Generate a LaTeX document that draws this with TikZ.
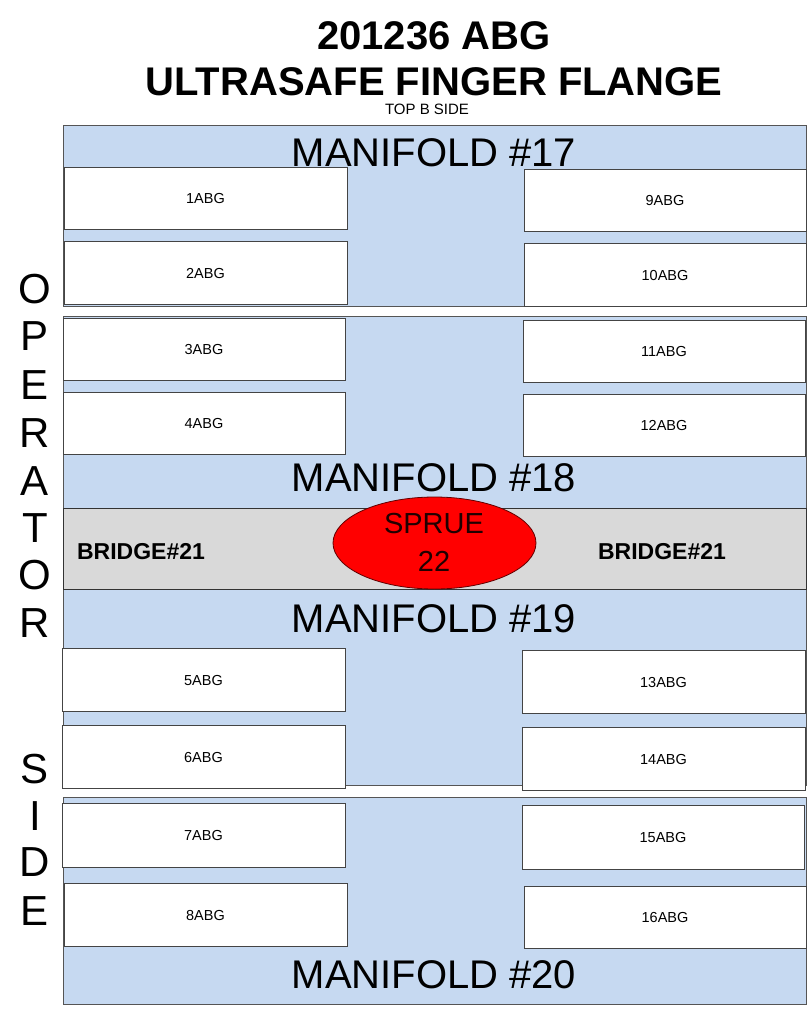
\documentclass[tikz,border=0pt]{standalone}
\usepackage{fontspec}
\setmainfont{Liberation Sans}
\usetikzlibrary{shapes.geometric}
\definecolor{panelblue}{HTML}{C6D9F1}
\definecolor{bridgegray}{HTML}{D9D9D9}
\definecolor{edgegray}{HTML}{555555}
\definecolor{sprueedge}{HTML}{600000}
\definecolor{spruetext}{HTML}{200000}
\tikzset{
  panel/.style={fill=panelblue, draw=edgegray, line width=1pt},
  bridgeband/.style={fill=bridgegray, draw=black!80, line width=0.8pt},
  cell/.style={fill=white, draw=edgegray!80!black, line width=1pt},
  celltext/.style={anchor=base, inner sep=0pt, font=\fontsize{14.5}{17}\selectfont},
  titletext/.style={anchor=base, inner sep=0pt, font=\fontsize{40}{48}\selectfont\bfseries},
  subtext/.style={anchor=base, inner sep=0pt, font=\fontsize{15}{18}\selectfont},
  mantext/.style={anchor=base, inner sep=0pt, font=\fontsize{40}{48}\selectfont},
  bridgetext/.style={anchor=base, inner sep=0pt, font=\fontsize{23}{27}\selectfont\bfseries},
  spruetxt/.style={anchor=base, inner sep=0pt, text=spruetext, font=\fontsize{29}{34}\selectfont},
  sidetext/.style={anchor=base, inner sep=0pt, font=\fontsize{42}{50}\selectfont},
}
\newcommand{\cellbox}[6]{%
  \draw[cell] (#1,#2) rectangle (#3,#4);
  \node[celltext] (#5) at ({(#1+#3)/2},{(#2+#4)/2+5.5}) {#6};
}
\begin{document}
\begin{tikzpicture}[x=1pt,y=-1pt]
\useasboundingbox (0,0) rectangle (808,1017);
% titles
\node[titletext] (t1) at (434,49) {201236 ABG};
\node[titletext] (t2) at (434,95) {ULTRASAFE FINGER FLANGE};
\node[subtext] (t3) at (427,114) {TOP B SIDE};
% panels
\draw[panel] (63,125) rectangle (806,306);
\draw[panel] (63,316) rectangle (806,508);
\draw[panel] (63,589) rectangle (806,785);
\draw[panel] (63,797) rectangle (806,1004);
\draw[bridgeband] (63,508) rectangle (806,589);
% manifold labels
\node[mantext] (m17) at (434,166) {MANIFOLD \#17};
\node[mantext] (m18) at (434,491) {MANIFOLD \#18};
\node[mantext] (m19) at (434,632) {MANIFOLD \#19};
\node[mantext] (m20) at (434,988) {MANIFOLD \#20};
% cells
\cellbox{64}{167}{347}{229}{c1}{1ABG}
\cellbox{64}{241}{347}{304}{c2}{2ABG}
\cellbox{63}{318}{345}{380}{c3}{3ABG}
\cellbox{63}{392}{345}{454}{c4}{4ABG}
\cellbox{62}{648}{345}{711}{c5}{5ABG}
\cellbox{62}{725}{345}{788}{c6}{6ABG}
\cellbox{62}{803}{345}{867}{c7}{7ABG}
\cellbox{64}{883}{347}{946}{c8}{8ABG}
\cellbox{524}{169}{806}{231}{c9}{9ABG}
\cellbox{524}{243}{806}{306}{c10}{10ABG}
\cellbox{523}{320}{805}{382}{c11}{11ABG}
\cellbox{523}{394}{805}{456}{c12}{12ABG}
\cellbox{522}{650}{805}{713}{c13}{13ABG}
\cellbox{522}{727}{805}{790}{c14}{14ABG}
\cellbox{522}{805}{804}{869}{c15}{15ABG}
\cellbox{524}{886}{806}{948}{c16}{16ABG}
% bridge
\node[bridgetext] (b1) at (141,559) {BRIDGE\#21};
\node[bridgetext] (b2) at (662,559) {BRIDGE\#21};
\node[ellipse, fill=red, draw=sprueedge, line width=0.8pt, minimum width=203pt, minimum height=92pt, inner sep=0pt] (sprue) at (434.5,543) {};
\node[spruetxt] (s1) at (434,533.5) {SPRUE};
\node[spruetxt] (s2) at (434,571.5) {22};
% operator side
\foreach \ch/\yy [count=\i] in {O/288,P/335,E/384,R/432,A/480,T/527,O/574,R/622,S/768,I/815,D/861,E/910}{
  \node[sidetext] (op\i) at (35,\yy+15) {\ch};
}
\end{tikzpicture}
\end{document}
